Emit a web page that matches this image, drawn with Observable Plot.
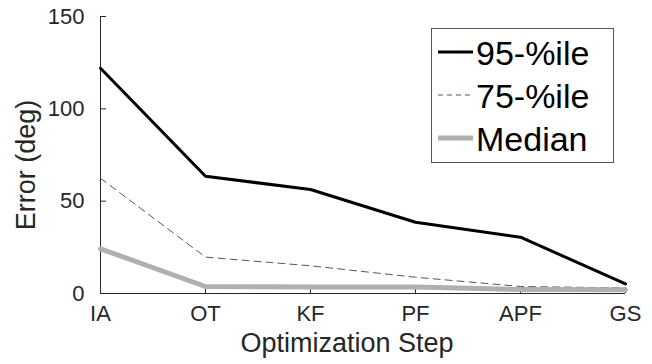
<!DOCTYPE html>
<html>
<head>
<meta charset="utf-8">
<script src="https://cdn.jsdelivr.net/npm/d3@7"></script>
<script src="https://cdn.jsdelivr.net/npm/@observablehq/plot@0.6"></script>
<style>
  html, body { margin: 0; padding: 0; background: #fff; }
  svg { display: block; }
</style>
</head>
<body>
<div id="chart"></div>
<script>
const steps = ["IA", "OT", "KF", "PF", "APF", "GS"];
const p95 = [122, 63.5, 56.3, 38.6, 30.5, 5.2];
const p75 = [62.4, 19.7, 15, 8.8, 3.8, 3];
const median = [24.2, 3.8, 3.5, 3.5, 2.2, 2];
const yTicks = [0, 50, 100, 150];
const seriesNames = ["95-%ile", "75-%ile", "Median"];

const toRows = (vals) => steps.map((s, i) => ({step: s, value: vals[i]}));
const font = "Liberation Sans, Arial, Helvetica, sans-serif";

const W = 652, H = 364;
const mL = 100, mR = 27, mT = 16, mB = 71;

const plot = Plot.plot({
  width: W,
  height: H,
  marginLeft: mL,
  marginRight: mR,
  marginTop: mT,
  marginBottom: mB,
  style: {fontFamily: font, background: "white", color: "#262626"},
  x: {type: "point", domain: steps, padding: 0},
  y: {domain: [0, 150]},
  marks: [
    Plot.axisY({ticks: yTicks, tickSize: -6, tickPadding: 22, fontSize: 22, label: null, stroke: "#262626"}),
    Plot.axisX({tickSize: -6, tickPadding: 18, fontSize: 22, label: null, stroke: "#262626"}),
    Plot.ruleX([steps[0]], {stroke: "#262626", strokeWidth: 1}),
    Plot.ruleY([0], {stroke: "#262626", strokeWidth: 1}),
    Plot.line(toRows(p95), {x: "step", y: "value", stroke: "black", strokeWidth: 3}),
    Plot.line(toRows(p75), {x: "step", y: "value", stroke: "#555", strokeWidth: 1, strokeDasharray: "7,5"}),
    Plot.line(toRows(median), {x: "step", y: "value", stroke: "#b0b0b0", strokeWidth: 5})
  ]
});

const svg = d3.select(plot);

// axis titles
svg.append("text")
  .attr("x", 347).attr("y", 352)
  .attr("text-anchor", "middle")
  .attr("font-family", font).attr("font-size", 27).attr("fill", "#262626")
  .text("Optimization Step");
svg.append("text")
  .attr("transform", "translate(35,165) rotate(-90)")
  .attr("text-anchor", "middle")
  .attr("font-family", font).attr("font-size", 27).attr("fill", "#262626")
  .text("Error (deg)");

// legend
const lg = svg.append("g").attr("text-anchor", "start");
lg.append("rect").attr("x", 431.5).attr("y", 28.5).attr("width", 182).attr("height", 134)
  .attr("fill", "white").attr("stroke", "#555").attr("stroke-width", 1);
const lstyles = [
  {stroke: "black", w: 3, dash: null},
  {stroke: "#555", w: 1, dash: "5,4"},
  {stroke: "#b0b0b0", w: 5, dash: null}
];
seriesNames.forEach((name, i) => {
  const yy = 52 + i * 43;
  lg.append("line").attr("x1", 438).attr("x2", 473).attr("y1", yy).attr("y2", yy)
    .attr("stroke", lstyles[i].stroke).attr("stroke-width", lstyles[i].w)
    .attr("stroke-dasharray", lstyles[i].dash);
  lg.append("text").attr("x", 476).attr("y", yy + 13)
    .attr("text-anchor", "start")
    .attr("font-family", font).attr("font-size", 34).attr("fill", "black")
    .text(name);
});

document.getElementById("chart").appendChild(plot);
</script>
</body>
</html>
